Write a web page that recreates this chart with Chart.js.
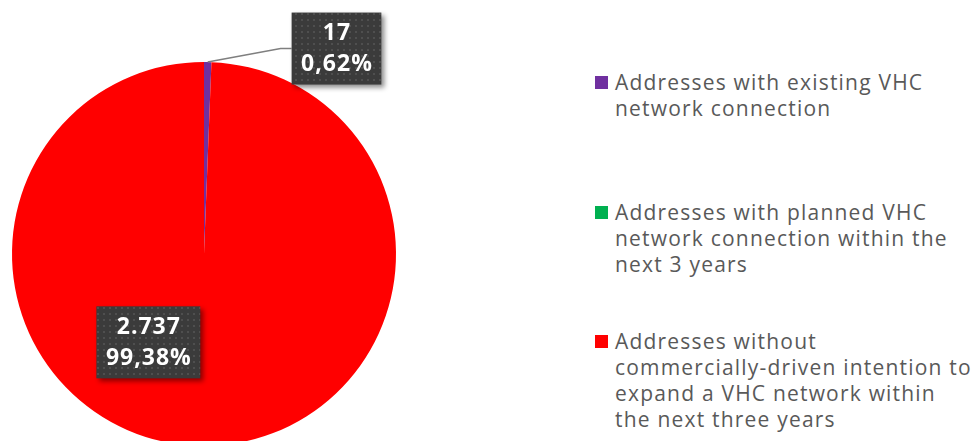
<!DOCTYPE html>
<html>
<head>
<meta charset="utf-8">
<script src="https://cdn.jsdelivr.net/npm/chart.js@4/dist/chart.umd.min.js"></script>
<style>
  html, body { margin: 0; padding: 0; background: #fff; overflow: hidden; }
  body { width: 978px; height: 441px; position: relative; font-family: "Open Sans", Lato, sans-serif; }
  #pieBox { position: absolute; left: 0; top: 0; width: 408px; height: 508px; }
  #legend { position: absolute; left: 595px; top: 69px; width: 383px; }
  .item { display: flex; align-items: flex-start; color: #595959; font-size: 21px; line-height: 26px; letter-spacing: 1.2px; }
  .item .sw { width: 13px; height: 13px; margin-top: 7px; margin-right: 7px; flex: none; }
  .item .tx { width: 362px; white-space: nowrap; }
</style>
</head>
<body>
<div id="pieBox"><canvas id="pie"></canvas></div>
<div id="legend"></div>
<script>
const categories = [
    'Addresses with existing VHC network connection',
    'Addresses with planned VHC network connection within the next 3 years',
    'Addresses without commercially-driven intention to expand a VHC network within the next three years'
];
// wrapped like the original legend
const legendLines = [
    ['Addresses with existing VHC', 'network connection'],
    ['Addresses with planned VHC', 'network connection within the', 'next 3 years'],
    ['Addresses without', 'commercially-driven intention to', 'expand a VHC network within', 'the next three years']
];
const values = [17, 0, 2737];
const colors = ['#7030A0', '#00B050', '#FF0000'];
const legendTops = [0, 130, 259];

// label box placement, relative to pie centre in radius units
const labelOffsets = [[0.69, -1.07], null, [-0.29, 0.46]];

function makePattern(ctx) {
    const c = document.createElement('canvas');
    c.width = 6; c.height = 6;
    const p = c.getContext('2d');
    p.fillStyle = '#3b3b3b';
    p.fillRect(0, 0, 6, 6);
    p.fillStyle = '#4f4f4f';
    p.fillRect(1, 1, 2, 2);
    return ctx.createPattern(c, 'repeat');
}

const boxLabels = {
    id: 'boxLabels',
    afterDatasetsDraw(chart) {
        const ctx = chart.ctx;
        const meta = chart.getDatasetMeta(0);
        const total = values.reduce((a, b) => a + b, 0);
        const pattern = makePattern(ctx);
        const font = 'bold 23px "Open Sans", Lato, sans-serif';
        meta.data.forEach((arc, i) => {
            if (!values[i] || !labelOffsets[i]) return;
            const r = arc.outerRadius;
            const cx = arc.x + labelOffsets[i][0] * r;
            const cy = arc.y + labelOffsets[i][1] * r;
            const line1 = values[i].toLocaleString('de-DE');
            const line2 = (values[i] / total * 100).toFixed(2).replace('.', ',') + '%';
            ctx.save();
            ctx.font = font;
            ctx.letterSpacing = '1px';
            const w = Math.max(ctx.measureText(line1).width, ctx.measureText(line2).width) + 18;
            const h = 72;
            const bx = cx - w / 2, by = cy - h / 2;
            // leader line for labels outside the pie
            const dist = Math.hypot(cx - arc.x, cy - arc.y);
            if (dist > r) {
                const mid = (arc.startAngle + arc.endAngle) / 2;
                const px = arc.x + Math.cos(mid) * r;
                const py = arc.y + Math.sin(mid) * r;
                ctx.strokeStyle = '#7f7f7f';
                ctx.lineWidth = 1.5;
                ctx.beginPath();
                ctx.moveTo(px, py);
                ctx.lineTo(bx - 11, cy);
                ctx.lineTo(bx, cy);
                ctx.stroke();
            }
            ctx.shadowColor = 'rgba(0,0,0,0.45)';
            ctx.shadowBlur = 5;
            ctx.shadowOffsetX = 3;
            ctx.shadowOffsetY = 3;
            ctx.fillStyle = pattern;
            ctx.fillRect(bx, by, w, h);
            ctx.restore();
            ctx.save();
            ctx.font = font;
            ctx.letterSpacing = '1px';
            ctx.fillStyle = '#fff';
            ctx.textAlign = 'center';
            ctx.textBaseline = 'middle';
            ctx.fillText(line1, cx + 0.5, cy - 15);
            ctx.fillText(line2, cx + 0.5, cy + 16);
            ctx.restore();
        });
    }
};

const chart = new Chart(document.getElementById('pie'), {
    type: 'pie',
    data: {
        labels: categories,
        datasets: [{
            data: values,
            backgroundColor: colors,
            borderWidth: 0
        }]
    },
    options: {
        responsive: true,
        maintainAspectRatio: false,
        animation: false,
        layout: { padding: { top: 62, bottom: 62, left: 12, right: 12 } },
        plugins: {
            legend: { display: false },
            tooltip: { enabled: false }
        }
    },
    plugins: [boxLabels]
});

// legend built from the same arrays
const legendEl = document.getElementById('legend');
categories.forEach((c, i) => {
    const item = document.createElement('div');
    item.className = 'item';
    item.style.position = 'absolute';
    item.style.top = legendTops[i] + 'px';
    item.title = c;
    item.innerHTML = '<div class="sw" style="background:' + colors[i] + '"></div><div class="tx">' +
        legendLines[i].join('<br>') + '</div>';
    legendEl.appendChild(item);
});
</script>
</body>
</html>
